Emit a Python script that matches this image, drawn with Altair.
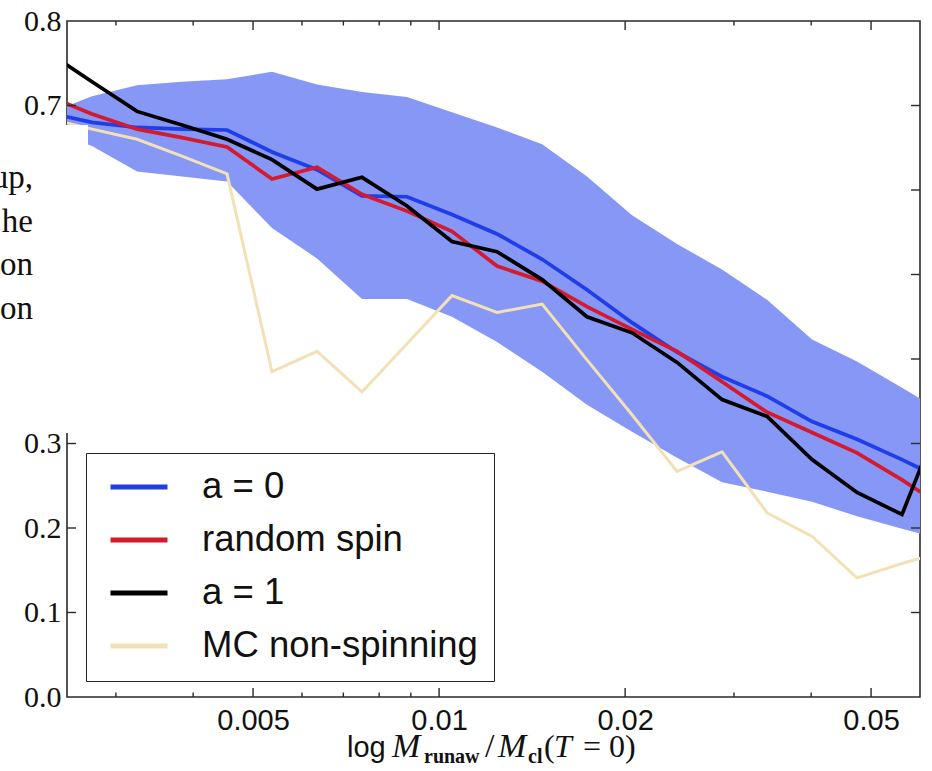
import altair as alt
import pandas as pd

# Bin centres of M_runaw / M_cl(T=0) (log-spaced); the outermost bins sit just past the axis limits
mass_ratio = [0.00232, 0.002744, 0.003246, 0.003837, 0.004538, 0.005366, 0.006346,
              0.007503, 0.008874, 0.01049, 0.01241, 0.01468, 0.01735, 0.02052,
              0.02427, 0.0287, 0.03394, 0.04013, 0.04745, 0.05611, 0.06637]

series_names = ["a = 0", "random spin", "a = 1", "MC non-spinning"]
series_colors = ["#1f3de8", "#d41a2c", "#000000", "#f2e1b6"]

spin_zero = [0.692, 0.680, 0.674, 0.672, 0.671, 0.645, 0.624, 0.593, 0.592, 0.571, 0.548,
             0.518, 0.482, 0.443, 0.408, 0.379, 0.356, 0.326, 0.305, 0.281, 0.255]
spin_random = [0.712, 0.690, 0.672, 0.662, 0.651, 0.613, 0.627, 0.595, 0.575, 0.551, 0.510,
               0.492, 0.462, 0.435, 0.409, 0.373, 0.337, 0.313, 0.289, 0.257, 0.222]
spin_one = [0.764, 0.728, 0.693, 0.677, 0.660, 0.636, 0.601, 0.615, 0.581, 0.539, 0.527,
            0.494, 0.450, 0.431, 0.396, 0.352, 0.332, 0.281, 0.242, 0.216, 0.350]
mc_nonspinning = [0.685, 0.672, 0.660, 0.640, 0.619, 0.385, 0.409, 0.361, 0.418, 0.475, 0.455,
                  0.465, 0.399, 0.334, 0.267, 0.290, 0.218, 0.190, 0.141, 0.158, 0.173]

# spread of the a = 0 runs
band_low = [0.672, 0.652, 0.622, 0.616, 0.610, 0.555, 0.519, 0.471, 0.471, 0.450, 0.420,
            0.385, 0.346, 0.314, 0.283, 0.254, 0.243, 0.231, 0.214, 0.199, 0.185]
band_high = [0.690, 0.711, 0.724, 0.728, 0.731, 0.740, 0.725, 0.716, 0.710, 0.692, 0.674,
             0.654, 0.616, 0.570, 0.536, 0.506, 0.470, 0.423, 0.397, 0.366, 0.334]

x_major = [0.005, 0.01, 0.02, 0.05]
x_minor = [0.003, 0.004, 0.006, 0.007, 0.008, 0.009, 0.03, 0.04]
y_labels = [0.0, 0.1, 0.2, 0.3, 0.4, 0.5, 0.6, 0.7, 0.8]
y_ticks = [0.1, 0.2, 0.3, 0.4, 0.5, 0.6, 0.7]

W, H = 853, 676

lines_df = pd.concat([
    pd.DataFrame({"x": mass_ratio, "y": vals, "series": name})
    for name, vals in zip(series_names, [spin_zero, spin_random, spin_one, mc_nonspinning])
])
band_df = pd.DataFrame({"x": mass_ratio, "low": band_low, "high": band_high})

x_scale = alt.Scale(type="log", domain=[0.0025, 0.06], nice=False)
y_scale = alt.Scale(domain=[0, 0.8], nice=False, zero=False)

x_axis = alt.Axis(values=x_major, format="~g", title=None, ticks=False, domain=False,
                  grid=False, labelFont="Liberation Sans", labelFontSize=29,
                  labelPadding=9, labelColor="#111", labelFlush=False, labelOverlap=False)
y_axis = alt.Axis(values=y_labels, format=".1f", title=None, ticks=False, domain=False,
                  grid=False, labelFont="Liberation Serif", labelFontSize=30,
                  labelPadding=6, labelColor="#111")

x_enc = alt.X("x:Q", scale=x_scale, axis=x_axis)
y_enc = alt.Y("y:Q", scale=y_scale, axis=y_axis)

color_scale = alt.Scale(domain=series_names, range=series_colors)
legend = alt.Legend(orient="none", legendX=19, legendY=432, title=None,
                    symbolType="stroke", symbolStrokeWidth=5, symbolSize=3249,
                    labelFont="Liberation Sans", labelFontSize=36.5, labelColor="#111",
                    labelLimit=600, strokeColor="#222", fillColor="white",
                    padding=16, rowPadding=16, clipHeight=36, symbolOffset=6,
                    labelOffset=32)

band = alt.Chart(band_df).mark_area(color="#8797f5", opacity=1, clip=True).encode(
    x=x_enc,
    y=alt.Y("low:Q", scale=y_scale, axis=y_axis),
    y2="high:Q",
)

line_layers = []
for name in series_names:
    width = 3.0 if name == "MC non-spinning" else 3.7
    line_layers.append(
        alt.Chart(lines_df).transform_filter(alt.datum.series == name)
        .mark_line(strokeWidth=width, clip=True)
        .encode(x=x_enc, y=y_enc,
                color=alt.Color("series:N", scale=color_scale, legend=legend))
    )

# inward-pointing ticks on all four sides
xmaj_df = pd.DataFrame({"x": x_major})
xmin_df = pd.DataFrame({"x": x_minor})
ytk_df = pd.DataFrame({"y": y_ticks})
tick_style = dict(color="#2a2a2a", strokeWidth=1.4)

ticks = [
    alt.Chart(xmaj_df).mark_rule(**tick_style).encode(x=x_enc, y=alt.value(H), y2=alt.value(H - 9)),
    alt.Chart(xmaj_df).mark_rule(**tick_style).encode(x=x_enc, y=alt.value(0), y2=alt.value(9)),
    alt.Chart(xmin_df).mark_rule(**tick_style).encode(x=x_enc, y=alt.value(H), y2=alt.value(H - 4.5)),
    alt.Chart(xmin_df).mark_rule(**tick_style).encode(x=x_enc, y=alt.value(0), y2=alt.value(4.5)),
    alt.Chart(ytk_df).mark_rule(**tick_style).encode(y=y_enc, x=alt.value(0), x2=alt.value(9)),
    alt.Chart(ytk_df).mark_rule(**tick_style).encode(y=y_enc, x=alt.value(W), x2=alt.value(W - 9)),
]

one = alt.Data(values=[{"k": 0}])

# page strip laid over the left edge, with the ends of the neighbouring text lines
cover = alt.Chart(one).mark_rect(color="white").encode(
    x=alt.value(-67), x2=alt.value(21), y=alt.value(104), y2=alt.value(412)
)
fragments = alt.Chart(one).mark_text(
    text=["up,", "he", "on", "on"], lineHeight=43.5, align="right",
    baseline="alphabetic", font="Liberation Serif", fontSize=33, color="#111"
).encode(x=alt.value(-34), y=alt.value(167))


def piece(text, x, y, font="Liberation Serif", size=32, style="normal", weight="normal"):
    return alt.Chart(one).mark_text(
        text=text, font=font, fontSize=size, fontStyle=style, fontWeight=weight,
        align="left", baseline="alphabetic", color="#111"
    ).encode(x=alt.value(x), y=alt.value(y))


# x-axis title: log M_runaw / M_cl(T = 0), positions relative to the plot's left edge
title_y = 736
title_parts = [
    piece("log", 280, title_y, font="Liberation Sans", size=29),
    piece("M", 325, title_y, style="italic", size=34),
    piece("runaw", 357, title_y + 6, size=20, weight="bold"),
    piece("/", 418, title_y, size=34),
    piece("M", 431, title_y, style="italic", size=34),
    piece("cl", 461, title_y + 6, size=20, weight="bold"),
    piece("(", 477, title_y),
    piece("T", 487, title_y, style="italic"),
    piece("= 0)", 516, title_y),
]

chart = alt.layer(
    band, *line_layers, *ticks, cover, fragments, *title_parts
).resolve_scale(color="shared").properties(
    width=W, height=H,
    padding={"left": 67, "top": 21, "right": 12, "bottom": 74},
    autosize=alt.AutoSizeParams(type="none"),
    background="white",
).configure_view(stroke="#2a2a2a", strokeWidth=1.6)

chart.save("out.html", embed_options={"renderer": "svg", "actions": False})
